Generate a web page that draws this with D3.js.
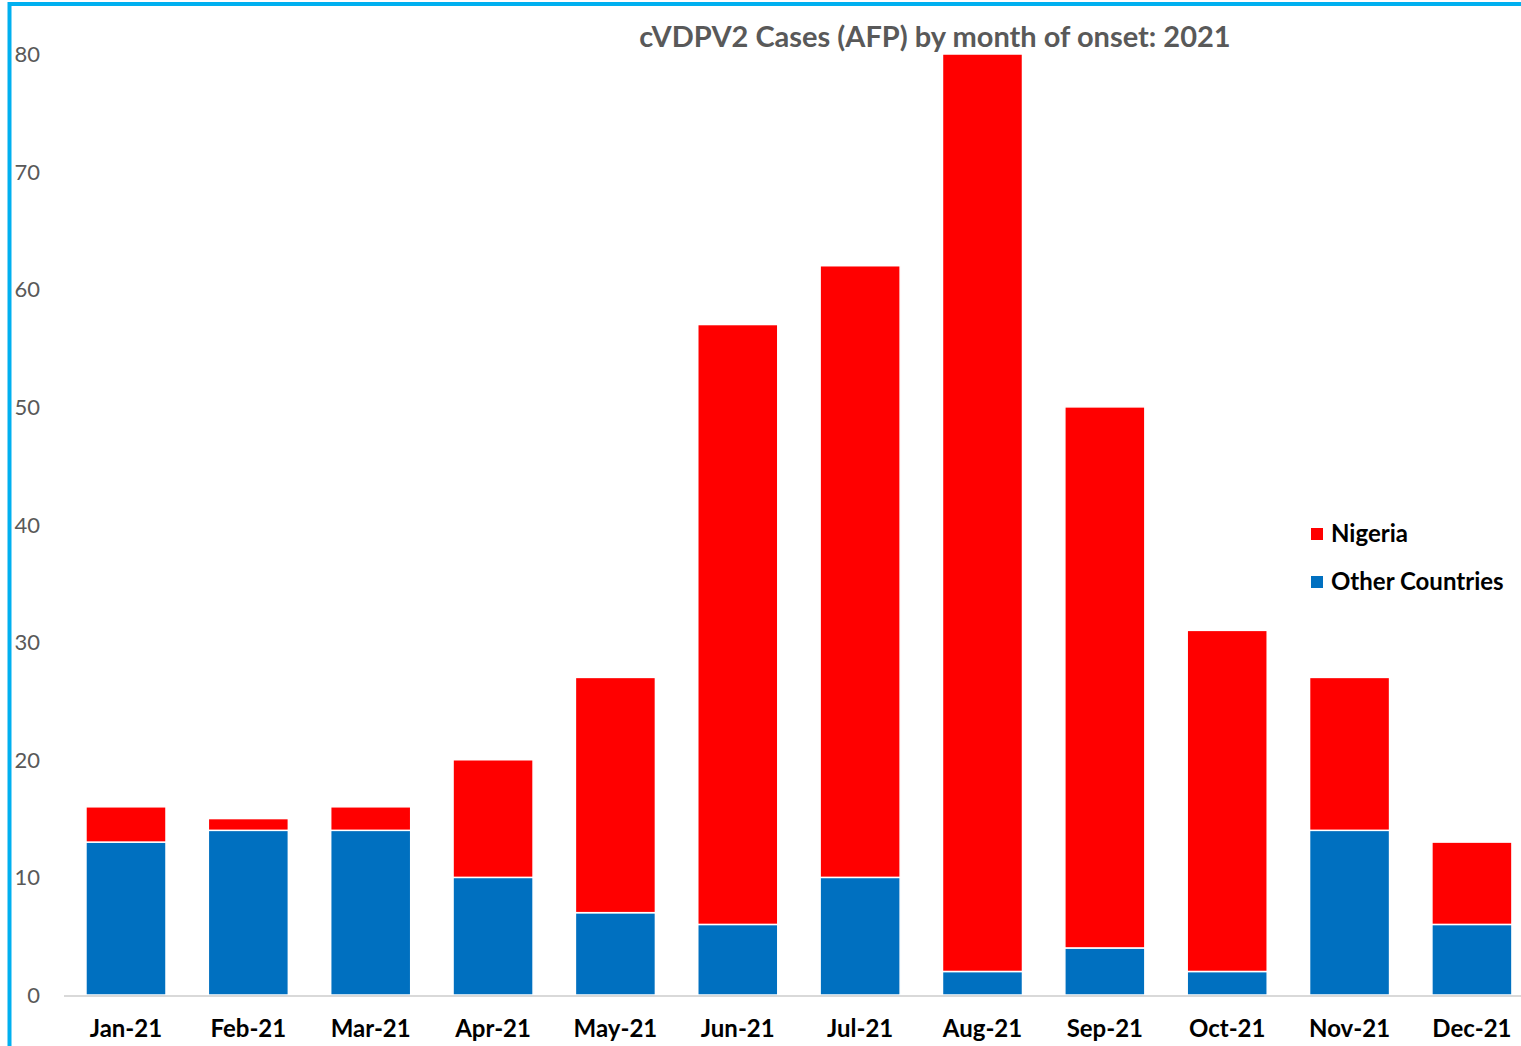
<!DOCTYPE html>
<html>
<head>
<meta charset="utf-8">
<script src="https://cdn.jsdelivr.net/npm/d3@7"></script>
<style>
  body { margin: 0; background: #fff; }
  svg { display: block; font-family: Lato, "Open Sans", sans-serif; }
</style>
</head>
<body>
<svg id="chart" width="1521" height="1046"></svg>
<script>
// chart data
const months = ["Jan-21", "Feb-21", "Mar-21", "Apr-21", "May-21", "Jun-21",
                "Jul-21", "Aug-21", "Sep-21", "Oct-21", "Nov-21", "Dec-21"];
const otherCountries = [13, 14, 14, 10, 7, 6, 10, 2, 4, 2, 14, 6];
const nigeria = [3, 1, 2, 10, 20, 51, 52, 78, 46, 29, 13, 7];
const yTicks = [0, 10, 20, 30, 40, 50, 60, 70, 80];
const seriesNames = ["Nigeria", "Other Countries"];
const seriesColors = ["#FF0000", "#0070C0"];

const svg = d3.select("#chart");

// outer frame (only top/left visible in the crop)
svg.append("rect")
    .attr("x", 9.5).attr("y", 4)
    .attr("width", 1540).attr("height", 1080)
    .attr("fill", "none")
    .attr("stroke", "#00B0F0")
    .attr("stroke-width", 4);

let x = d3.scaleBand().domain(months).range([64.8, 1533.1]).paddingInner(0.346).paddingOuter(0.173);
let y = d3.scaleLinear().domain([0, 80]).range([995, 54]);

// tick labels on y
svg.append("g").selectAll("text").data(yTicks).enter()
    .append("text")
    .attr("x", 40)
    .attr("y", d => y(d) + 8)
    .attr("text-anchor", "end")
    .style("font-size", "22px")
    .style("fill", "#595959")
    .text(d => d);

// stacked rows
let rows = months.map((m, i) => ({month: m, other: otherCountries[i], nigeria: nigeria[i]}));
let stack = d3.stack().keys(["other", "nigeria"])(rows);
let color = d3.scaleOrdinal().domain(["other", "nigeria"]).range([seriesColors[1], seriesColors[0]]);

svg.append("g").selectAll("g").data(stack).enter()
    .append("g")
    .attr("fill", d => color(d.key))
    .selectAll("rect").data(d => d).enter()
    .append("rect")
    .attr("x", d => x(d.data.month))
    .attr("y", d => y(d[1]))
    .attr("width", x.bandwidth())
    .attr("height", d => y(d[0]) - y(d[1]))
    .attr("stroke", "#fff")
    .attr("stroke-width", 1.5);

// baseline
svg.append("line")
    .attr("x1", 64).attr("x2", 1521)
    .attr("y1", y(0) + 1).attr("y2", y(0) + 1)
    .attr("stroke", "#D9D9D9")
    .attr("stroke-width", 2);

// month labels
svg.append("g").selectAll("text").data(months).enter()
    .append("text")
    .attr("x", d => x(d) + x.bandwidth() / 2)
    .attr("y", 1037)
    .attr("text-anchor", "middle")
    .style("font-size", "24px")
    .style("font-weight", "bold")
    .style("fill", "#000")
    .text(d => d);

// title
svg.append("text")
    .attr("x", 935).attr("y", 47)
    .attr("text-anchor", "middle")
    .style("font-size", "29px")
    .style("font-weight", "bold")
    .style("fill", "#595959")
    .text("cVDPV2 Cases (AFP) by month of onset: 2021");

// legend
let legend = svg.append("g").selectAll("g").data(seriesNames).enter()
    .append("g")
    .attr("transform", (d, i) => `translate(1311, ${528 + i * 48})`);
legend.append("rect")
    .attr("width", 12).attr("height", 12)
    .attr("fill", (d, i) => seriesColors[i]);
legend.append("text")
    .attr("x", 20).attr("y", 14)
    .style("font-size", "24px")
    .style("font-weight", "bold")
    .style("fill", "#000")
    .text(d => d);
</script>
</body>
</html>
